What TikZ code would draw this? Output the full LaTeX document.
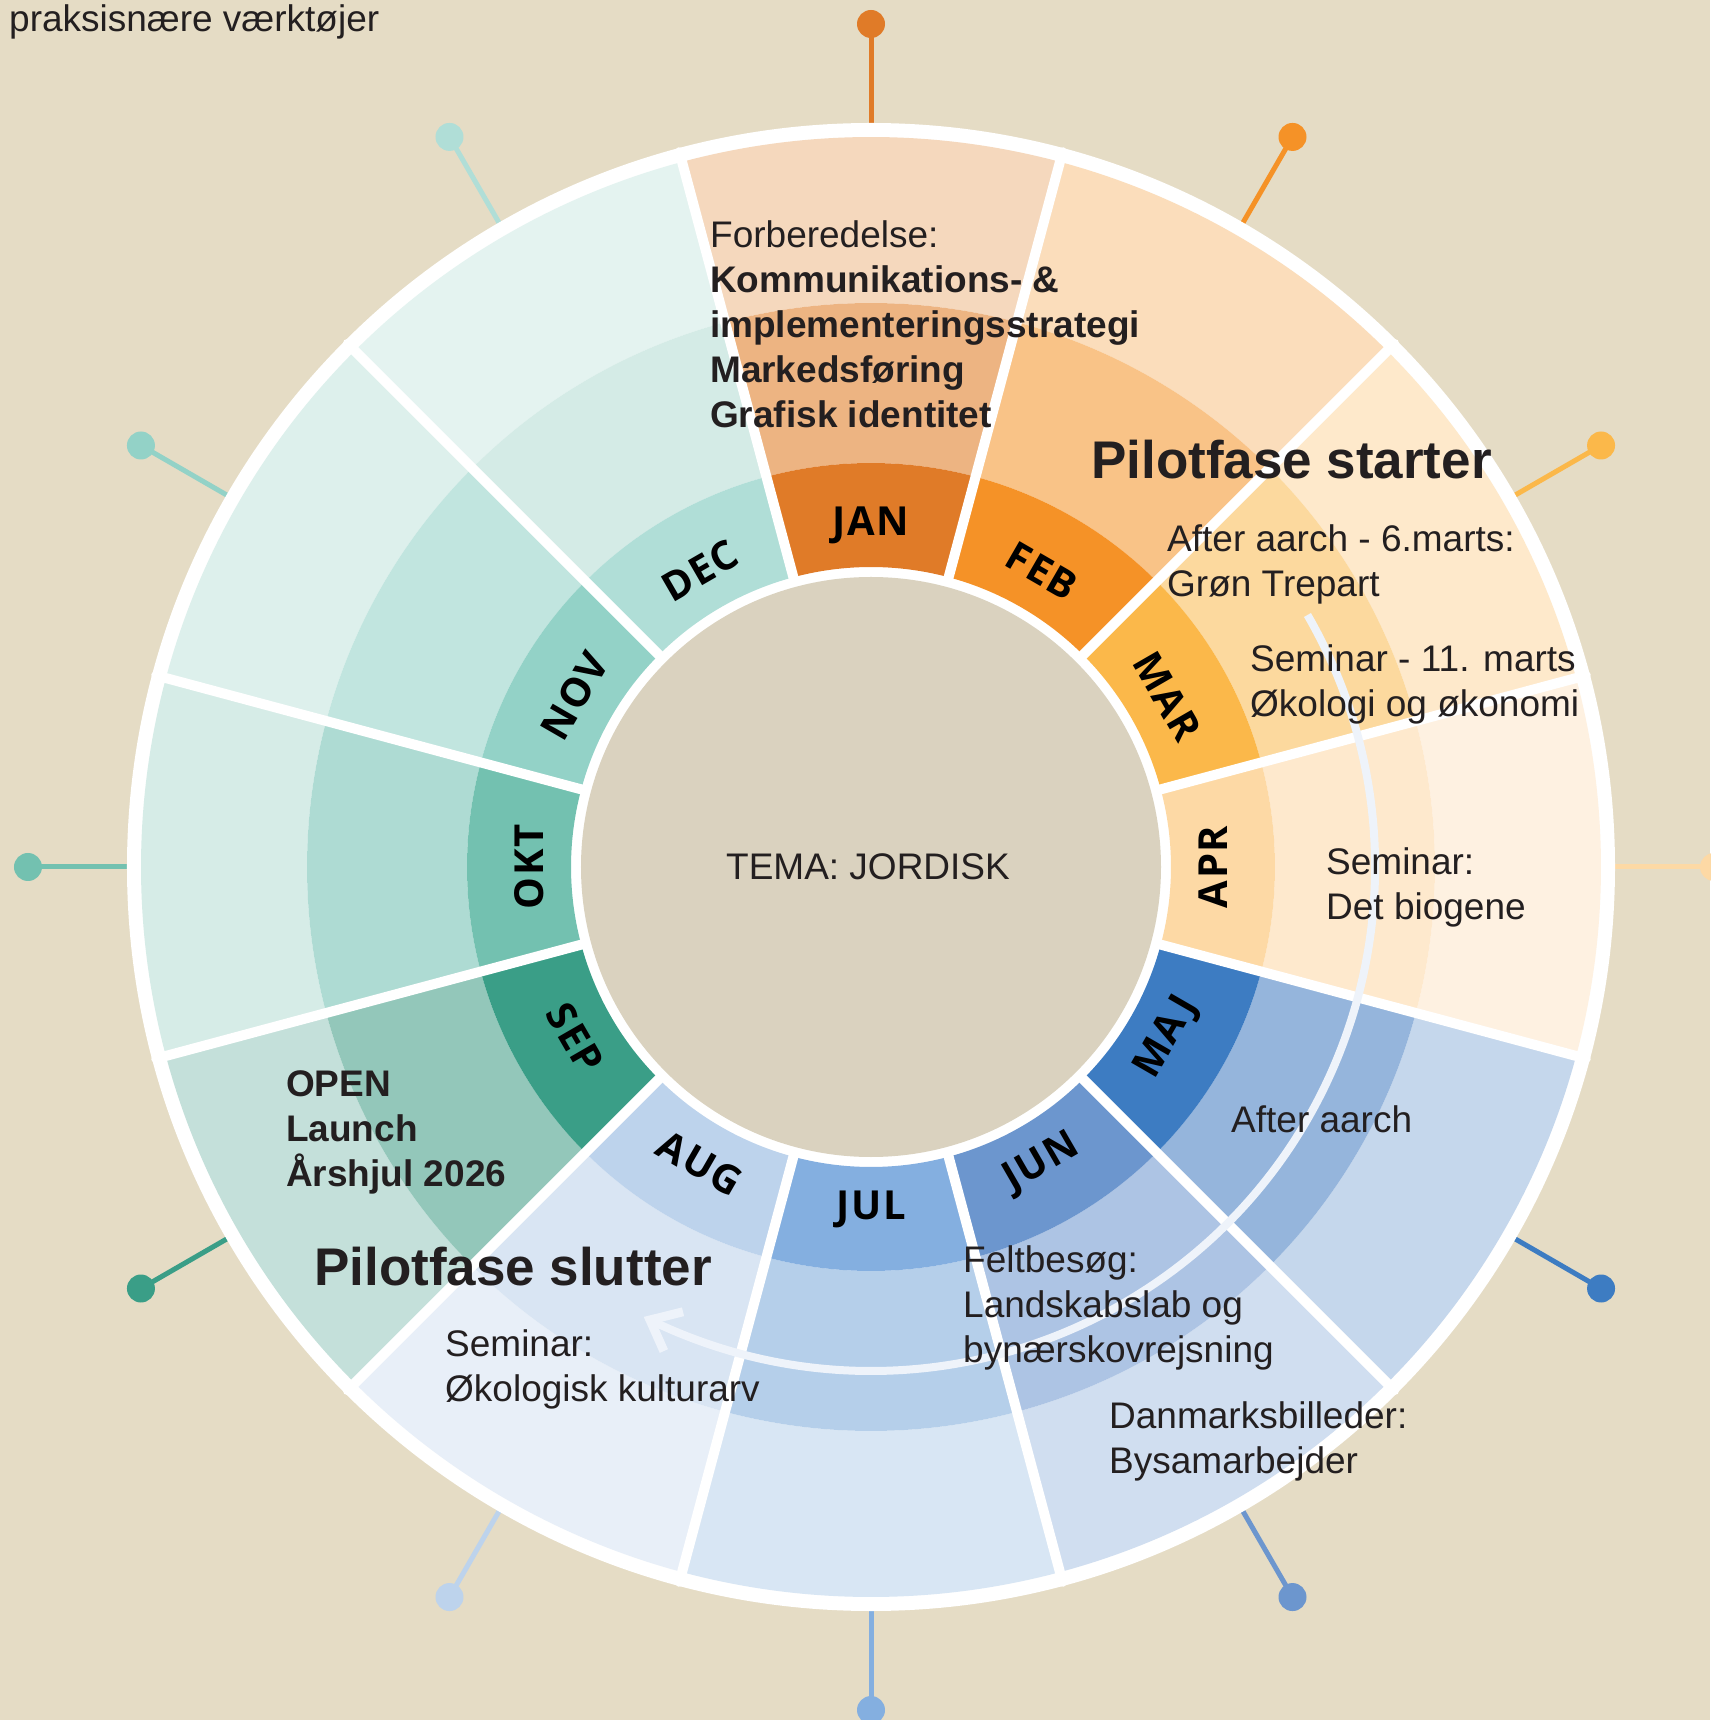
\documentclass[tikz,border=0pt]{standalone}
\usepackage{fontspec}
\setmainfont{Liberation Sans}
\newfontfamily\monthfont[LetterSpace=4]{Open Sans}

\definecolor{bg}{HTML}{E5DCC5}
\definecolor{disk}{HTML}{DAD2BF}
\definecolor{txt}{HTML}{231F20}
\definecolor{pilarc}{HTML}{EEF3FA}
% A = month ring, B = middle ring, C = outer ring
\definecolor{janA}{HTML}{E07B28}\definecolor{janB}{HTML}{EDB482}\definecolor{janC}{HTML}{F5D8BD}
\definecolor{febA}{HTML}{F59227}\definecolor{febB}{HTML}{F9C387}\definecolor{febC}{HTML}{FBDDBB}
\definecolor{marA}{HTML}{FBB84A}\definecolor{marB}{HTML}{FCD99E}\definecolor{marC}{HTML}{FEE9CB}
\definecolor{aprA}{HTML}{FDD9A5}\definecolor{aprB}{HTML}{FEE9CD}\definecolor{aprC}{HTML}{FEF1E1}
\definecolor{majA}{HTML}{3D7CC2}\definecolor{majB}{HTML}{95B5DC}\definecolor{majC}{HTML}{C5D7EC}
\definecolor{junA}{HTML}{6C96CE}\definecolor{junB}{HTML}{ADC4E4}\definecolor{junC}{HTML}{D0DEF0}
\definecolor{julA}{HTML}{84AFE0}\definecolor{julB}{HTML}{B5CFEA}\definecolor{julC}{HTML}{D8E6F4}
\definecolor{augA}{HTML}{BDD3EC}\definecolor{augB}{HTML}{D9E5F3}\definecolor{augC}{HTML}{E8EFF8}
\definecolor{sepA}{HTML}{3A9E87}\definecolor{sepB}{HTML}{93C7BA}\definecolor{sepC}{HTML}{C4E0DA}
\definecolor{oktA}{HTML}{73C1B0}\definecolor{oktB}{HTML}{AEDBD3}\definecolor{oktC}{HTML}{D6ECE7}
\definecolor{novA}{HTML}{93D2C7}\definecolor{novB}{HTML}{C1E5DF}\definecolor{novC}{HTML}{DDF0EC}
\definecolor{decA}{HTML}{B0DED7}\definecolor{decB}{HTML}{D4EBE6}\definecolor{decC}{HTML}{E4F3F0}

\newcommand\ringpart[4]{% colour, mid angle, inner r, outer r
  \fill[#1] ({#2-15.2}:#3) arc[start angle=#2-15.2,end angle=#2+15.2,radius=#3]
    -- ({#2+15.2}:#4) arc[start angle=#2+15.2,end angle=#2-15.2,radius=#4] -- cycle;}

\tikzset{
  month/.style={font=\monthfont\bfseries\fontsize{40}{48}\selectfont, text=black, inner sep=0},
  note/.style={font=\fontsize{37}{45}\selectfont, text=txt, align=left, anchor=north west, inner sep=0},
  big/.style={font=\bfseries\fontsize{53}{60}\selectfont, text=txt, anchor=north west, inner sep=0},
}

\begin{document}
\begin{tikzpicture}[x=1pt, y=1pt, line join=round, line cap=round, >=stealth]
	\def\rin{300}\def\rmon{404}\def\rmid{564}\def\rout{730}\def\rring{744}\def\rpin{843}
	\fill[bg] (-871,-853) rectangle (839,867);
	\useasboundingbox (-871,-853) rectangle (839,867);
	
	\foreach \a/\m in {90/jan,60/feb,30/mar,0/apr,-30/maj,-60/jun,-90/jul,-120/aug,-150/sep,180/okt,150/nov,120/dec}{
		\draw[\m A, line width=5] (\a:\rring) -- (\a:\rpin);
		\fill[\m A] (\a:\rpin) circle (14);
	}
	\fill[white] (0,0) circle (\rring);
	\foreach \a/\m in {90/jan,60/feb,30/mar,0/apr,-30/maj,-60/jun,-90/jul,-120/aug,-150/sep,180/okt,150/nov,120/dec}{
		\ringpart{\m C}{\a}{\rmid}{\rout}
		\ringpart{\m B}{\a}{\rmon}{\rmid}
		\ringpart{\m A}{\a}{\rin}{\rmon}
	}
	\foreach \a in {15,45,...,345}
		\draw[white, line width=10] (\a:290) -- (\a:740);
	\fill[disk] (0,0) circle (290);
	
	\foreach \a/\t/\r in {90/JAN/0,60/FEB/-30,30/MAR/-60,0/APR/90,-30/MAJ/60,-60/JUN/30,-90/JUL/0,-120/AUG/-30,-150/SEP/-60,180/OKT/90,150/NOV/60,120/DEC/30}
		\node[month, rotate=\r] (m\t) at (\a:342) {\t};
	
	\draw[pilarc, line width=8, line cap=butt] (30:504) arc[start angle=30, end angle=-116, radius=504] coordinate (tip);
	\draw[pilarc, line width=9, line cap=butt, line join=miter] ([shift={(294:34)}]tip) -- (tip) -- ([shift={(14:34)}]tip);
	
	\node[note, anchor=center] (tema) at (-3,0) {TEMA: JORDISK};
	\node[note] (prak) at (-862,862) {praksisnære værktøjer};
	\node[note] (forb) at (-161,647) {Forberedelse:\\\textbf{Kommunikations- \&}\\\textbf{implementeringsstrategi}\\\textbf{Markedsføring}\\\textbf{Grafisk identitet}};
	\node[big] (start) at (220,427) {Pilotfase starter};
	\node[note] (after1) at (296,343) {After aarch - 6.marts:\\Grøn Trepart};
	\node[note] (sem1) at (379,223) {Seminar - 11. marts\\Økologi og økonomi};
	\node[note] (sem2) at (455,20) {Seminar:\\Det biogene};
	\node[note] (after2) at (360,-238) {After aarch};
	\node[note, font=\bfseries\fontsize{37}{45}\selectfont] (open) at (-585,-203) {OPEN\\Launch\\Årshjul 2026};
	\node[big] (slut) at (-557,-380) {Pilotfase slutter};
	\node[note] (sem3) at (-426,-462) {Seminar:\\Økologisk kulturarv};
	\node[note] (felt) at (92,-378) {Feltbesøg:\\Landskabslab og\\bynærskovrejsning};
	\node[note] (dk) at (238,-534) {Danmarksbilleder:\\Bysamarbejder};
\end{tikzpicture}
\end{document}
